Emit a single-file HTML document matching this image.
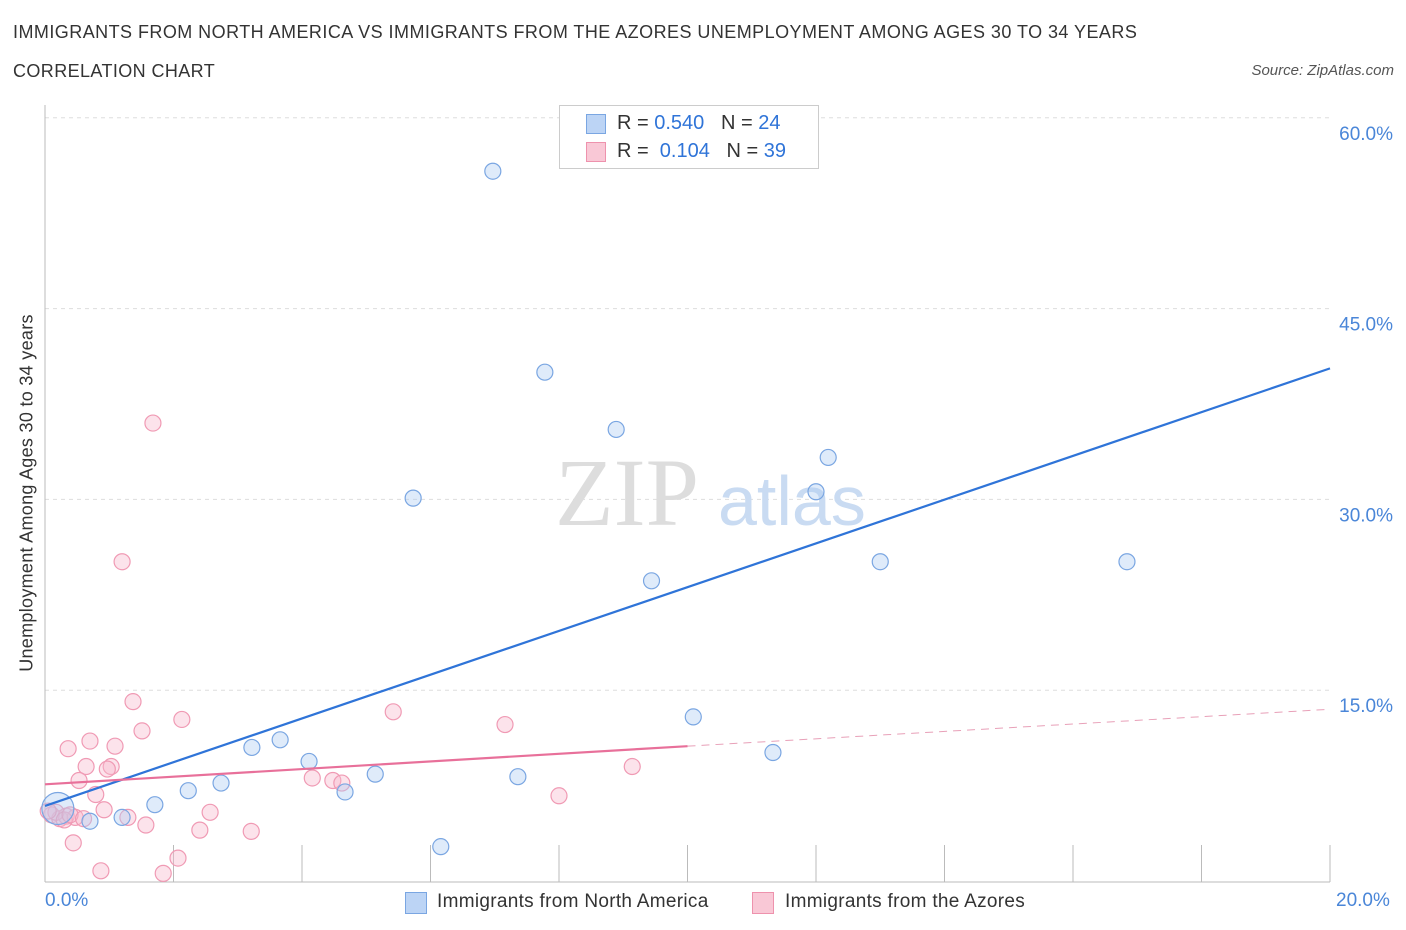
<!DOCTYPE html>
<html><head><meta charset="utf-8"><style>
body{margin:0;background:#fff;font-family:"Liberation Sans",sans-serif}
#wrap{position:relative;width:1406px;height:930px}
.t{position:absolute;white-space:nowrap}
</style></head><body>
<div id="wrap">
<div class="t" style="left:13px;top:22px;font-size:18px;color:#333;letter-spacing:0.45px">IMMIGRANTS FROM NORTH AMERICA VS IMMIGRANTS FROM THE AZORES UNEMPLOYMENT AMONG AGES 30 TO 34 YEARS</div>
<div class="t" style="left:13px;top:61px;font-size:18px;color:#333;letter-spacing:0.4px">CORRELATION CHART</div>
<div class="t" style="right:12px;top:62px;font-size:15px;font-style:italic;color:#555">Source: ZipAtlas.com</div>
<svg id="svg" width="1406" height="930" style="position:absolute;left:0;top:0"></svg>
</div>
<script>
const blueX=[6.97,7.78,8.89,12.19,12.0,5.73,13.0,16.84,9.44,10.09,11.33,3.66,3.22,4.11,5.14,7.36,2.74,2.23,4.67,1.71,1.2,0.7,0.2,6.16];
const blueY=[55.8,40.0,35.5,33.3,30.6,30.1,25.1,25.1,23.6,12.9,10.1,11.1,10.5,9.4,8.4,8.2,7.7,7.1,7.0,6.0,5.0,4.7,5.7,2.7];
const pinkX=[1.68,1.2,1.37,1.51,2.13,5.42,7.16,0.36,0.7,1.09,0.64,1.03,0.97,0.53,0.79,4.16,4.48,4.62,9.14,8.0,0.92,1.29,2.57,1.57,2.41,3.21,0.44,2.07,0.87,1.84,0.1,0.23,0.33,0.17,0.47,0.05,0.3,0.39,0.6];
const pinkY=[36.0,25.1,14.1,11.8,12.7,13.3,12.3,10.4,11.0,10.6,9.0,9.0,8.8,7.9,6.8,8.1,7.9,7.7,9.0,6.7,5.6,5.0,5.4,4.4,4.0,3.9,3.0,1.8,0.8,0.6,5.2,4.9,5.1,5.4,5.0,5.5,4.8,5.2,4.9];
const blueTrend=[0,5.9,20,40.3];
const pinkTrend=[0,7.6,10,10.6,20,13.5];
const yTicks=[15,30,45,60];
const X=v=>45+v*64.25, Y=v=>881-v*12.72;
const svg=document.getElementById('svg');
const NS='http://www.w3.org/2000/svg';
function el(t,a,p){const e=document.createElementNS(NS,t);for(const k in a)e.setAttribute(k,a[k]);(p||svg).appendChild(e);return e;}
yTicks.forEach(v=>{
 const g=el('line',{x1:45,x2:1330,y1:Y(v),y2:Y(v),stroke:'#ddd','stroke-dasharray':'4,4'});
 
 
 const t=el('text',{x:1393,y:Y(v)+22,'text-anchor':'end','font-size':19,fill:'#4a86d8','font-family':'Liberation Sans'});
 t.textContent=v.toFixed(1)+'%';
 
 
});
el('line',{x1:45,x2:45,y1:105,y2:882,stroke:'#bbb'});
el('line',{x1:45,x2:1330,y1:882,y2:882,stroke:'#bbb'});
for(let i=1;i<=10;i++){const tk=el('line',{x1:45+i*128.5,x2:45+i*128.5,y1:845,y2:882,stroke:'#bbb'});
 
 }
const wm=el('text',{x:555,y:525,'font-size':96,fill:'#ddd','font-family':'Liberation Serif'});wm.textContent='ZIP';
const wm2=el('text',{x:718,y:525,'font-size':70,fill:'#c9dbf2','font-family':'Liberation Sans'});wm2.textContent='atlas';


pinkX.forEach((x,i)=>{const c=el('circle',{cx:X(x),cy:Y(pinkY[i]),r:8,fill:'rgba(248,185,205,0.4)',stroke:'#f09ab4','stroke-width':1.2});
 
 });
blueX.forEach((x,i)=>{const c=el('circle',{cx:X(x),cy:Y(blueY[i]),r:i==22?16:8,fill:'rgba(175,205,242,0.4)',stroke:'#7aa6e2','stroke-width':1.2});
 
 });
const bl=el('line',{x1:X(blueTrend[0]),y1:Y(blueTrend[1]),x2:X(blueTrend[2]),y2:Y(blueTrend[3]),stroke:'#2f74d8','stroke-width':2.2});

const pl=el('line',{x1:X(pinkTrend[0]),y1:Y(pinkTrend[1]),x2:X(pinkTrend[2]),y2:Y(pinkTrend[3]),stroke:'#e8709a','stroke-width':2.2});

const pd=el('line',{x1:X(pinkTrend[2]),y1:Y(pinkTrend[3]),x2:X(pinkTrend[4]),y2:Y(pinkTrend[5]),stroke:'#e8a0b8','stroke-width':1,'stroke-dasharray':'8,6'});

</script>
<div class="t" style="left:45px;top:890px;font-size:19px;color:#4a86d8">0.0%</div>
<div class="t" style="left:1336px;top:890px;font-size:19px;color:#4a86d8">20.0%</div>
<div class="t" style="left:27px;top:493px;font-size:18px;color:#333;letter-spacing:0.3px;transform:translate(-50%,-50%) rotate(-90deg)">Unemployment Among Ages 30 to 34 years</div>
<div style="position:absolute;left:559px;top:105px;width:258px;height:62px;border:1px solid #ccc;background:#fff;font-size:20px;color:#333">
 <div style="position:absolute;left:26px;top:8px;width:18px;height:18px;background:#bcd4f5;border:1px solid #7aa6e2"></div>
 <div class="t" style="left:57px;top:6px">R = <span style="color:#2f74d8">0.540</span>&nbsp;&nbsp;&nbsp;N = <span style="color:#2f74d8">24</span></div>
 <div style="position:absolute;left:26px;top:36px;width:18px;height:18px;background:#f9c8d6;border:1px solid #ee92ad"></div>
 <div class="t" style="left:57px;top:34px">R = &nbsp;<span style="color:#2f74d8">0.104</span>&nbsp;&nbsp;&nbsp;N = <span style="color:#2f74d8">39</span></div>
</div>
<div style="position:absolute;left:405px;top:891px;font-size:19px;color:#333;letter-spacing:0.3px">
 <div style="position:absolute;left:0;top:1px;width:20px;height:20px;background:#bcd4f5;border:1px solid #7aa6e2"></div>
 <div class="t" style="left:32px;top:0">Immigrants from North America</div></div>
<div style="position:absolute;left:752px;top:891px;font-size:19px;color:#333;letter-spacing:0.3px">
 <div style="position:absolute;left:0;top:1px;width:20px;height:20px;background:#f9c8d6;border:1px solid #ee92ad"></div>
 <div class="t" style="left:33px;top:0">Immigrants from the Azores</div></div>
</body></html>
